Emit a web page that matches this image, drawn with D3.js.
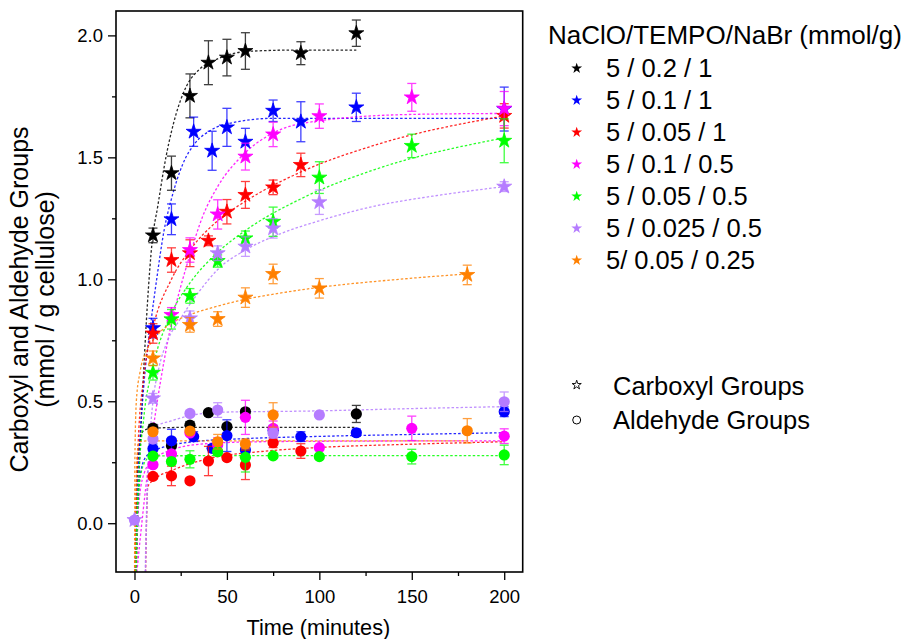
<!DOCTYPE html>
<html>
<head>
<meta charset="utf-8">
<script src="https://cdn.jsdelivr.net/npm/d3@7"></script>
<style>
  body { margin: 0; background: #fff; }
  svg { font-family: "Liberation Sans", Arial, sans-serif; }
  .axis path { display: none; }
  .axis line { stroke: #000; stroke-width: 1.3; }
  .axis text { font-size: 18.5px; fill: #000; }
</style>
</head>
<body>
<svg class="chart-svg"></svg>
<script>
var svgWidth = 903;
var svgHeight = 639;

// legend labels and colours
var seriesNames = ["5 / 0.2 / 1", "5 / 0.1 / 1", "5 / 0.05 / 1", "5 / 0.1 / 0.5", "5 / 0.05 / 0.5", "5 / 0.025 / 0.5", "5/ 0.05 / 0.25"];
var seriesColors = ["#000000", "#0000ff", "#ff0000", "#ff00ff", "#00ff00", "#b57cff", "#ff8000"];

var xTicks = [0, 50, 100, 150, 200];
var xMinorTicks = [25, 75, 125, 175];
var yTicks = [0, 0.5, 1.0, 1.5, 2.0];
var yMinorTicks = [0.25, 0.75, 1.25, 1.75];

// carboxyl groups: [time, value, error]
var carbBlack = [[10,1.18,0.03],[20,1.435,0.07],[30,1.752,0.09],[40,1.888,0.09],[50,1.909,0.075],[60,1.936,0.075],[90,1.927,0.047],[120,2.009,0.054]];
var carbBlue = [[10,0.80,0.04],[20,1.246,0.063],[32,1.605,0.06],[42,1.527,0.08],[50,1.623,0.078],[60,1.564,0.055],[75,1.691,0.044],[90,1.646,0.082],[120,1.705,0.058],[200,1.698,0.09]];
var carbRed = [[10,0.778,0.04],[20,1.079,0.05],[30,1.107,0.055],[40,1.158,0.02],[50,1.277,0.05],[60,1.346,0.055],[75,1.377,0.03],[90,1.469,0.048],[200,1.67,0.05]];
var carbMagenta = [[20,0.854,0.03],[30,1.12,0.05],[45,1.266,0.06],[60,1.503,0.055],[75,1.594,0.05],[100,1.669,0.05],[150,1.746,0.057],[200,1.70,0.07]];
var carbGreen = [[10,0.617,0.03],[20,0.836,0.04],[30,0.932,0.03],[45,1.075,0.025],[60,1.168,0.03],[75,1.236,0.06],[100,1.417,0.065],[150,1.547,0.048],[200,1.568,0.09]];
var carbPurple = [[0,0.013,0],[10,0.512,0.02],[30,0.84,0.03],[45,1.107,0.03],[60,1.134,0.04],[75,1.209,0.04],[100,1.316,0.05],[200,1.38,0.02]];
var carbOrange = [[10,0.676,0.03],[30,0.813,0.03],[45,0.837,0.03],[60,0.925,0.04],[75,1.022,0.04],[100,0.963,0.04],[180,1.018,0.04]];

// aldehyde groups: [time, value, error]
var aldBlack = [[10,0.39,0.015],[20,0.318,0.01],[30,0.402,0.015],[40,0.453,0.012],[50,0.396,0.01],[60,0.457,0.012],[120,0.448,0.035]];
var aldBlue = [[10,0.305,0.02],[20,0.338,0.047],[32,0.355,0.02],[42,0.307,0.015],[50,0.359,0.065],[60,0.30,0.02],[75,0.38,0.02],[90,0.355,0.02],[120,0.371,0.015],[200,0.457,0.02]];
var aldRed = [[10,0.192,0.01],[20,0.194,0.04],[30,0.174,0.01],[40,0.255,0.06],[50,0.269,0.01],[60,0.239,0.06],[75,0.33,0.02],[90,0.296,0.03]];
var aldMagenta = [[10,0.24,0.01],[20,0.284,0.01],[30,0.37,0.01],[45,0.321,0.03],[60,0.434,0.07],[75,0.389,0.03],[100,0.31,0.01],[150,0.389,0.05],[200,0.357,0.03]];
var aldGreen = [[10,0.275,0.01],[20,0.253,0.01],[30,0.262,0.035],[45,0.293,0.01],[60,0.27,0.06],[75,0.276,0.01],[100,0.273,0.01],[150,0.273,0.03],[200,0.28,0.04]];
var aldPurple = [[0,0.013,0],[10,0.345,0.01],[30,0.45,0.01],[45,0.464,0.03],[75,0.369,0.02],[100,0.444,0.01],[200,0.498,0.04]];
var aldOrange = [[10,0.375,0.01],[30,0.378,0.01],[45,0.334,0.03],[60,0.325,0.02],[75,0.444,0.05],[180,0.379,0.05]];

// fitted curves: [time, value]
var fitCarbBlack = [[1,-0.2],[2.5,0.2],[4.5,0.55],[7,0.9],[9.5,1.15],[12.6,1.3],[17,1.5],[22.6,1.68],[28,1.79],[35,1.86],[44,1.9],[62,1.935],[90,1.94],[120,1.94]];
var fitCarbBlue = [[0.3,-0.2],[2,0.2],[5,0.56],[8.5,0.8],[12,1.0],[16,1.2],[20,1.33],[26,1.47],[33,1.56],[41,1.61],[55,1.645],[75,1.66],[120,1.66],[200,1.66]];
var fitCarbRed = [[0.35,-0.2],[1,0.13],[2,0.33],[5,0.6],[10,0.8],[20,1.0],[30,1.12],[45,1.24],[60,1.32],[90,1.44],[130,1.55],[200,1.67]];
var fitCarbMagenta = [[1.3,-0.2],[3,-0.07],[6,0.14],[10,0.38],[14.5,0.6],[20,0.82],[25,0.97],[30,1.1],[37,1.26],[45,1.38],[58.7,1.51],[75,1.6],[100,1.65],[150,1.676],[200,1.68]];
var fitCarbGreen = [[0.68,-0.2],[1,-0.08],[2,0.14],[5,0.43],[10,0.64],[20,0.86],[30,0.985],[45,1.11],[60,1.2],[90,1.33],[130,1.45],[200,1.58]];
var fitCarbPurple = [[5.8,-0.2],[6.5,0.05],[7.5,0.25],[9,0.42],[10,0.5],[13,0.63],[18,0.75],[25,0.84],[35,0.95],[45,1.04],[60,1.12],[80,1.19],[100,1.24],[130,1.3],[165,1.345],[200,1.38]];
var fitCarbOrange = [[0.05,-0.2],[0.2,0.25],[1,0.5],[3,0.62],[6,0.7],[10,0.75],[20,0.82],[30,0.855],[45,0.89],[60,0.918],[80,0.945],[100,0.967],[140,0.998],[180,1.022]];

var fitAldBlack = [[0.5,-0.2],[1.5,0.2],[3,0.34],[5,0.38],[10,0.39],[30,0.393],[60,0.393],[120,0.393]];
var fitAldBlue = [[0.3,-0.2],[1.5,0.05],[3.6,0.218],[6,0.27],[9.9,0.293],[20,0.32],[31.6,0.334],[60,0.347],[95,0.355],[150,0.364],[200,0.371]];
var fitAldRed = [[6,-0.2],[6.5,0.0],[7.2,0.15],[10,0.175],[20.8,0.218],[40.7,0.266],[70,0.295],[98.5,0.31],[150,0.324],[200,0.334]];
var fitAldMagenta = [[0.8,-0.2],[2,0.05],[5,0.2],[9.9,0.259],[20,0.3],[31.6,0.321],[60,0.333],[100,0.336],[200,0.338]];
var fitAldGreen = [[0.8,-0.2],[2,0.1],[4.5,0.232],[8,0.27],[12,0.276],[50,0.277],[200,0.277]];
var fitAldPurple = [[6,-0.2],[6.8,0.1],[8,0.3],[9.9,0.389],[20,0.42],[46,0.455],[95,0.46],[150,0.47],[200,0.478]];
var fitAldOrange = [[0.1,-0.2],[1,0.2],[2,0.32],[3,0.335],[10,0.338],[60,0.338],[180,0.338]];

var carbData = [carbBlack, carbBlue, carbRed, carbMagenta, carbGreen, carbPurple, carbOrange];
var aldData = [aldBlack, aldBlue, aldRed, aldMagenta, aldGreen, aldPurple, aldOrange];
var carbFits = [fitCarbBlack, fitCarbBlue, fitCarbRed, fitCarbMagenta, fitCarbGreen, fitCarbPurple, fitCarbOrange];
var aldFits = [fitAldBlack, fitAldBlue, fitAldRed, fitAldMagenta, fitAldGreen, fitAldPurple, fitAldOrange];

var plotLeft = 116, plotRight = 522.7, plotTop = 11, plotBottom = 572;
var starSize = 70;
var circleRadius = 5.6;
var capHalf = 4.5;

var svg = d3.select('.chart-svg').attr('width', svgWidth).attr('height', svgHeight);
var x_scale = d3.scaleLinear().domain([-10, 210]).range([plotLeft, plotRight]);
var y_scale = d3.scaleLinear().domain([-0.2, 2.1]).range([plotBottom, plotTop]);

init();

function init(){
  svg.append('defs').append('clipPath').attr('id', 'plot-clip')
    .append('rect')
    .attr('x', plotLeft).attr('y', plotTop)
    .attr('width', plotRight - plotLeft).attr('height', plotBottom - plotTop);

  drawAxes();

  var lineGen = d3.line()
    .x(function(d){ return x_scale(d[0]); })
    .y(function(d){ return y_scale(d[1]); })
    .curve(d3.curveMonotoneX);

  var plot = svg.append('g').attr('clip-path', 'url(#plot-clip)');

  // fit lines
  for(var i = 0; i < seriesNames.length; i++){
    [carbFits[i], aldFits[i]].forEach(function(fit){
      plot.append('path')
        .datum(fit)
        .attr('d', lineGen)
        .attr('fill', 'none')
        .attr('stroke', seriesColors[i])
        .attr('stroke-width', 1.3)
        .attr('stroke-dasharray', '2.5,2')
        .attr('opacity', 0.85);
    });
  }

  // error bars and markers
  for(var i = 0; i < seriesNames.length; i++){
    drawPoints(plot, aldData[i], seriesColors[i], 'circle');
    drawPoints(plot, carbData[i], seriesColors[i], 'star');
  }

  // frame
  svg.append('rect')
    .attr('x', plotLeft).attr('y', plotTop)
    .attr('width', plotRight - plotLeft).attr('height', plotBottom - plotTop)
    .attr('fill', 'none').attr('stroke', '#000').attr('stroke-width', 1.6);

  drawLegend();
}

function drawPoints(plot, data, color, shape){
  var g = plot.append('g');
  data.forEach(function(d){
    if(d[2] > 0){
      var cx = x_scale(d[0]);
      var yTop = y_scale(d[1] + d[2]);
      var yBot = y_scale(d[1] - d[2]);
      var eb = g.append('g').attr('stroke', color).attr('stroke-width', 1.3).attr('opacity', 0.75);
      eb.append('line').attr('x1', cx).attr('x2', cx).attr('y1', yTop).attr('y2', yBot);
      eb.append('line').attr('x1', cx - capHalf).attr('x2', cx + capHalf).attr('y1', yTop).attr('y2', yTop);
      eb.append('line').attr('x1', cx - capHalf).attr('x2', cx + capHalf).attr('y1', yBot).attr('y2', yBot);
    }
  });
  if(shape == 'star'){
    g.selectAll('.star').data(data).enter().append('path')
      .attr('d', d3.symbol().type(d3.symbolStar).size(starSize))
      .attr('transform', function(d){ return 'translate(' + x_scale(d[0]) + ',' + y_scale(d[1]) + ')'; })
      .attr('fill', color)
      .attr('stroke', color)
      .attr('stroke-width', 0.8);
  } else {
    g.selectAll('.dot').data(data).enter().append('circle')
      .attr('cx', function(d){ return x_scale(d[0]); })
      .attr('cy', function(d){ return y_scale(d[1]); })
      .attr('r', circleRadius)
      .attr('fill', color);
  }
}

function drawAxes(){
  var x_axis = d3.axisBottom(x_scale).tickValues(xTicks).tickSize(8).tickPadding(10).tickFormat(d3.format('d'));
  var x_minor = d3.axisBottom(x_scale).tickValues(xMinorTicks).tickSize(4).tickFormat('');
  var y_axis = d3.axisLeft(y_scale).tickValues(yTicks).tickSize(8).tickPadding(5).tickFormat(d3.format('.1f'));
  var y_minor = d3.axisLeft(y_scale).tickValues(yMinorTicks).tickSize(4).tickFormat('');

  svg.append('g').attr('class', 'axis').attr('transform', 'translate(0,' + plotBottom + ')').call(x_axis);
  svg.append('g').attr('class', 'axis').attr('transform', 'translate(0,' + plotBottom + ')').call(x_minor);
  svg.append('g').attr('class', 'axis').attr('transform', 'translate(' + plotLeft + ',0)').call(y_axis);
  svg.append('g').attr('class', 'axis').attr('transform', 'translate(' + plotLeft + ',0)').call(y_minor);

  svg.append('text').text('Time (minutes)')
    .attr('x', (plotLeft + plotRight) / 2 - 1).attr('y', 635)
    .attr('text-anchor', 'middle').attr('font-size', '21.7px');

  var yTitle = svg.append('text')
    .attr('transform', 'translate(0,' + ((plotTop + plotBottom) / 2 + 8) + ') rotate(-90)')
    .attr('text-anchor', 'middle').attr('font-size', '25px');
  yTitle.append('tspan').attr('x', 0).attr('y', 28).text('Carboxyl and Aldehyde Groups');
  yTitle.append('tspan').attr('x', 0).attr('y', 54).text('(mmol / g cellulose)');
}

function drawLegend(){
  var legend = svg.append('g');
  legend.append('text').text('NaClO/TEMPO/NaBr (mmol/g)')
    .attr('x', 548).attr('y', 44.3).attr('font-size', '26px');

  for(var i = 0; i < seriesNames.length; i++){
    var baseY = 76.7 + i * 32;
    legend.append('path')
      .attr('d', d3.symbol().type(d3.symbolStar).size(36))
      .attr('transform', 'translate(576.7,' + (baseY - 8.4) + ')')
      .attr('fill', seriesColors[i]);
    legend.append('text').text(seriesNames[i])
      .attr('x', 606).attr('y', baseY).attr('font-size', '25.5px');
  }

  legend.append('path')
    .attr('d', d3.symbol().type(d3.symbolStar).size(26))
    .attr('transform', 'translate(576.7,385)')
    .attr('fill', 'none').attr('stroke', '#000').attr('stroke-width', 0.9);
  legend.append('text').text('Carboxyl Groups')
    .attr('x', 613).attr('y', 394.5).attr('font-size', '25.5px');

  legend.append('circle')
    .attr('cx', 576.7).attr('cy', 420).attr('r', 4)
    .attr('fill', 'none').attr('stroke', '#000').attr('stroke-width', 1);
  legend.append('text').text('Aldehyde Groups')
    .attr('x', 613).attr('y', 428.5).attr('font-size', '25.5px');
}
</script>
</body>
</html>
